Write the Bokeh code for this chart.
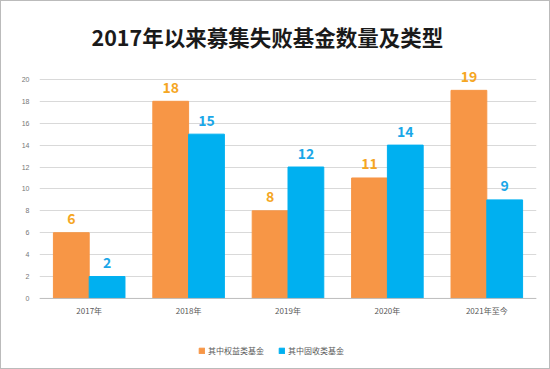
from bokeh.plotting import figure
from bokeh.models import ColumnDataSource, FactorRange, Legend, LegendItem, FixedTicker, Span
from bokeh.transform import dodge
from bokeh.core.properties import value
from bokeh.embed import file_html
from bokeh.resources import INLINE

categories = ["2017年", "2018年", "2019年", "2020年", "2021年至今"]
equity = [6, 18, 8, 11, 19]
fixed_income = [2, 15, 12, 14, 9]
series_names = ["其中权益类基金", "其中固收类基金"]
y_ticks = list(range(0, 21, 2))

src = ColumnDataSource(dict(
    cat=categories, eq=equity, fi=fixed_income, zero=[0] * len(categories),
    eq_t=[str(v) for v in equity], fi_t=[str(v) for v in fixed_income],
))

FONT = "Noto Sans CJK SC"
ORANGE = "#F79646"
BLUE = "#00B0F0"

p = figure(x_range=FactorRange(*categories, range_padding=0), y_range=(-5.94, 22),
           width=550, height=369, output_backend="svg", toolbar_location=None,
           min_border_left=38, min_border_right=15, min_border_top=56, min_border_bottom=7,
           title="2017年以来募集失败基金数量及类型")
p.title.align = "left"
p.title.text_font = FONT
p.title.text_font_size = "21.5px"
p.title.text_font_style = "bold"
p.title.text_color = "#1a1a1a"
p.title.offset = 52
p.title.standoff = 12

r1 = p.vbar(x=dodge("cat", -0.18, range=p.x_range), top="eq", width=0.36, source=src,
            fill_color=ORANGE, line_color=ORANGE)
r2 = p.vbar(x=dodge("cat", 0.18, range=p.x_range), top="fi", width=0.36, source=src,
            fill_color=BLUE, line_color=BLUE)

p.text(x=dodge("cat", -0.18, range=p.x_range), y="eq", text="eq_t", source=src,
       text_align="center", text_baseline="middle", y_offset=-14,
       text_font=value(FONT), text_font_size="14px", text_font_style="bold", text_color="#F5A623")
p.text(x=dodge("cat", 0.18, range=p.x_range), y="fi", text="fi_t", source=src,
       text_align="center", text_baseline="middle", y_offset=-14,
       text_font=value(FONT), text_font_size="14px", text_font_style="bold", text_color="#1AA7E8")

# category labels under the baseline
p.text(x="cat", y="zero", text="cat", source=src,
       text_align="center", text_baseline="middle", y_offset=12,
       text_font=value(FONT), text_font_size="8px", text_color="#595959")

p.add_layout(Span(location=0, dimension="width", line_color="#BFBFBF", line_width=1))

p.yaxis.ticker = FixedTicker(ticks=y_ticks)
p.yaxis.axis_line_color = None
p.yaxis.major_tick_line_color = None
p.yaxis.minor_tick_line_color = None
p.yaxis.major_label_text_font_size = "7px"
p.yaxis.major_label_text_color = "#777777"
p.yaxis.major_label_standoff = 4

p.xaxis.visible = False

p.xgrid.grid_line_color = None
p.ygrid.grid_line_color = "#D9D9D9"
p.ygrid.ticker = FixedTicker(ticks=y_ticks)
p.outline_line_color = None

legend = Legend(items=[LegendItem(label=series_names[0], renderers=[r1]),
                       LegendItem(label=series_names[1], renderers=[r2])],
                orientation="horizontal", location=(159, 7),
                label_text_font=FONT, label_text_font_size="8px", label_text_color="#595959",
                glyph_width=7, glyph_height=7, spacing=14, label_standoff=3, label_height=10,
                background_fill_alpha=0, border_line_color=None, padding=2, margin=0)
p.add_layout(legend, "center")

p.styles = {"border": "1px solid #BBBBBB", "box-sizing": "border-box"}

open("out.html", "w").write(file_html(p, INLINE))
